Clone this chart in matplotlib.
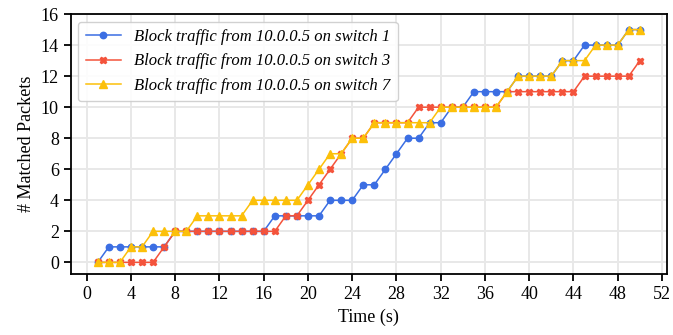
import numpy as np
import matplotlib
matplotlib.use("Agg")
import matplotlib.pyplot as plt

# time steps (s)
t = list(range(1, 51))

switch1 = [0, 1, 1, 1, 1, 1, 1, 2, 2, 2,
           2, 2, 2, 2, 2, 2, 3, 3, 3, 3,
           3, 4, 4, 4, 5, 5, 6, 7, 8, 8,
           9, 9, 10, 10, 11, 11, 11, 11, 12, 12,
           12, 12, 13, 13, 14, 14, 14, 14, 15, 15]

switch3 = [0, 0, 0, 0, 0, 0, 1, 2, 2, 2,
           2, 2, 2, 2, 2, 2, 2, 3, 3, 4,
           5, 6, 7, 8, 8, 9, 9, 9, 9, 10,
           10, 10, 10, 10, 10, 10, 10, 11, 11, 11,
           11, 11, 11, 11, 12, 12, 12, 12, 12, 13]

switch7 = [0, 0, 0, 1, 1, 2, 2, 2, 2, 3,
           3, 3, 3, 3, 4, 4, 4, 4, 4, 5,
           6, 7, 7, 8, 8, 9, 9, 9, 9, 9,
           9, 10, 10, 10, 10, 10, 10, 11, 12, 12,
           12, 12, 13, 13, 13, 14, 14, 14, 15, 15]

labels = ["Block traffic from 10.0.0.5 on switch 1",
          "Block traffic from 10.0.0.5 on switch 3",
          "Block traffic from 10.0.0.5 on switch 7"]

plt.rcParams['font.family'] = ['Liberation Serif', 'DejaVu Serif']
plt.rcParams['font.size'] = 13

fig = plt.figure(figsize=(6.73, 3.35), dpi=100)
ax = fig.add_axes([0.105, 0.182, 0.886, 0.776])

ax.plot(t, switch1, color='#3b6ee3', marker='o', markersize=4.6, lw=1.1, label=labels[0])
ax.plot(t, switch3, color='#f4533b', marker='X', markersize=4.6, lw=1.1, label=labels[1])
ax.plot(t, switch7, color='#fcc00a', marker='^', markersize=5.6, lw=1.1, label=labels[2])

ax.set_xlim(-1.45, 52.45)
ax.set_ylim(-0.75, 16)
ax.set_xticks(np.arange(0, 53, 4))
ax.set_yticks(np.arange(0, 17, 2))
ax.grid(True, color='#e8e8e8', lw=1.4)
ax.set_axisbelow(True)
for s in ax.spines.values():
    s.set_linewidth(1.3)
    s.set_color('black')
ax.tick_params(direction='out', length=5, width=1.3, labelsize=13)

ax.set_xlabel("Time (s)", fontsize=13)
ax.set_ylabel("# Matched Packets", fontsize=13)

leg = ax.legend(loc='upper left', prop={'style': 'italic', 'size': 12},
                fancybox=True, framealpha=0.9, edgecolor='#cccccc',
                handlelength=2.1, handletextpad=0.8, borderpad=0.45,
                labelspacing=0.5, borderaxespad=0.45)

fig.savefig("out.png", dpi=100)
